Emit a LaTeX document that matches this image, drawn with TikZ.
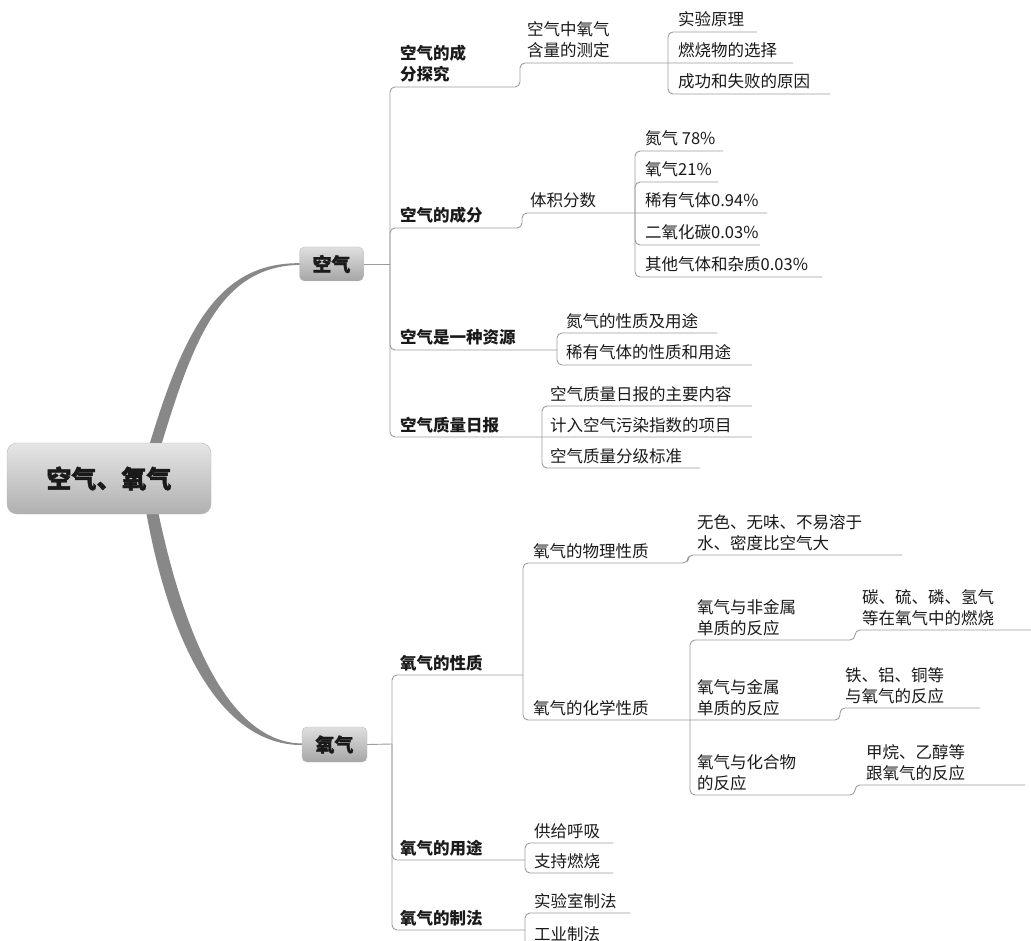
\documentclass[tikz,border=0pt]{standalone}
\usepackage{fontspec}
\setmainfont{Noto Sans CJK SC}
\definecolor{linec}{HTML}{9C9C9C}
\definecolor{textc}{HTML}{1A1A1A}
\definecolor{curvec}{HTML}{888888}
\newcommand\tb[1]{\begin{tabular}[b]{@{}l@{}}#1\end{tabular}}
\begin{document}
\begin{tikzpicture}[x=1pt,y=-1pt,
  lbl/.style={anchor=base west, inner sep=0pt, text=textc, font=\fontsize{16.5}{21}\selectfont},
  lbb/.style={lbl, font=\fontsize{16.5}{21}\selectfont\bfseries},
  br/.style={draw=linec, line width=0.9pt, rounded corners=5pt},
  rootbox/.style={rounded corners=10pt, draw=gray!55, top color=gray!20, bottom color=gray!62,
     minimum width=204pt, minimum height=71pt, inner sep=0pt, text=textc,
     font=\fontsize{25}{28}\selectfont\bfseries\addfontfeature{FakeBold=1.5}},
  topicbox/.style={rounded corners=5pt, draw=gray!50, top color=gray!25, bottom color=gray!70,
     minimum width=64pt, minimum height=34pt, inner sep=0pt, text=textc,
     font=\fontsize{19}{22}\selectfont\bfseries\addfontfeature{FakeBold=1}}
]
\useasboundingbox (0,0) rectangle (1031,941);
\fill[white] (0,0) rectangle (1031,941);
\clip (0,0) rectangle (1031,941);

% main tapered curves (behind the root box)
\fill[curvec] (149,446) .. controls (184,330) and (218,262.3) .. (300,263.2)
  -- (300,264.8) .. controls (223,266.5) and (195,333) .. (161,446) -- cycle;
\fill[curvec] (146,511) .. controls (170,646) and (222,745.5) .. (302,745)
  -- (302,743.5) .. controls (229,742.5) and (184,636) .. (158,511) -- cycle;

\node[rootbox] (root) at (109,478.5) {空气、氧气};
\node[topicbox] (kq) at (331.5,264) {空气};
\node[topicbox, minimum width=65pt, minimum height=35pt] (yq) at (334.5,744.5) {氧气};

% ---------- 空气 branch ----------
\coordinate (j1) at (390,264);
\draw[br] (kq.east) -- (j1);
% 空气的成分探究
\draw[br] (j1) -- (390,87) -- (520,87) -- (520,63) -- (668,63) -- (793,63);
\draw[br] (668,63) -- (668,32) -- (757,32);
\draw[br] (668,63) -- (668,94) -- (830,94);
% 空气的成分
\draw[br] (j1) -- (390,228) -- (522,228) -- (522,213) -- (635,213) -- (767,213);
\draw[br] (635,213) -- (635,151) -- (723,151);
\draw[br] (635,213) -- (635,182) -- (718,182);
\draw[br] (635,213) -- (635,245) -- (760,245);
\draw[br] (635,213) -- (635,277) -- (822,277);
% 空气是一种资源
\draw[br] (j1) -- (390,350) -- (557,350);
\draw[br] (557,350) -- (557,333) -- (717,333);
\draw[br] (557,350) -- (557,365) -- (752,365);
% 空气质量日报
\draw[br] (j1) -- (390,437) -- (542,437) -- (752,437);
\draw[br] (542,437) -- (542,406) -- (752,406);
\draw[br] (542,437) -- (542,468) -- (700,468);

% ---------- 氧气 branch ----------
\coordinate (j2) at (392,744);
\draw[br] (yq.east) -- (j2);
% 氧气的性质
\draw[br] (j2) -- (392,675) -- (523,675);
\draw[br] (523,675) -- (523,563) -- (688,563) -- (688,555) -- (902,555);
\draw[br] (523,675) -- (523,720) -- (690,720) -- (840,720) -- (840,708) -- (980,708);
\draw[br] (690,720) -- (690,640) -- (855,640) -- (855,630) -- (1031,630);
\draw[br] (690,720) -- (690,795) -- (855,795) -- (855,785) -- (1025,785);
% 氧气的用途
\draw[br] (j2) -- (392,860) -- (525,860);
\draw[br] (525,860) -- (525,843) -- (613,843);
\draw[br] (525,860) -- (525,873) -- (613,873);
% 氧气的制法
\draw[br] (j2) -- (392,930) -- (525,930);
\draw[br] (525,930) -- (525,913) -- (630,913);
\draw[br] (525,930) -- (525,946) -- (612,946);

% ---------- labels ----------
\node[lbb] (a1) at (400,81) {\tb{空气的成\\分探究}};
\node[lbb] (a2) at (400,222) {\tb{空气的成分}};
\node[lbb] (a3) at (400,344) {\tb{空气是一种资源}};
\node[lbb] (a4) at (400,431) {\tb{空气质量日报}};
\node[lbb] (b1) at (400,669) {\tb{氧气的性质}};
\node[lbb] (b2) at (400,854) {\tb{氧气的用途}};
\node[lbb] (b3) at (400,924) {\tb{氧气的制法}};

\node[lbl] (a11) at (527,57) {\tb{空气中氧气\\含量的测定}};
\node[lbl] (a111) at (678,26) {\tb{实验原理}};
\node[lbl] (a112) at (678,57) {\tb{燃烧物的选择}};
\node[lbl] (a113) at (678,88) {\tb{成功和失败的原因}};

\node[lbl] (a21) at (530,207) {\tb{体积分数}};
\node[lbl] (a211) at (645,145) {\tb{氮气 78\%}};
\node[lbl] (a212) at (645,176) {\tb{氧气21\%}};
\node[lbl] (a213) at (645,207) {\tb{稀有气体0.94\%}};
\node[lbl] (a214) at (645,239) {\tb{二氧化碳0.03\%}};
\node[lbl] (a215) at (645,271) {\tb{其他气体和杂质0.03\%}};

\node[lbl] (a31) at (566,327) {\tb{氮气的性质及用途}};
\node[lbl] (a32) at (566,359) {\tb{稀有气体的性质和用途}};

\node[lbl] (a41) at (550,400) {\tb{空气质量日报的主要内容}};
\node[lbl] (a42) at (550,431) {\tb{计入空气污染指数的项目}};
\node[lbl] (a43) at (550,462) {\tb{空气质量分级标准}};

\node[lbl] (b11) at (533,557) {\tb{氧气的物理性质}};
\node[lbl] (b111) at (697,549) {\tb{无色、无味、不易溶于\\水、密度比空气大}};
\node[lbl] (b12) at (533,714) {\tb{氧气的化学性质}};
\node[lbl] (b121) at (697,634) {\tb{氧气与非金属\\单质的反应}};
\node[lbl] (b1211) at (862,624) {\tb{碳、硫、磷、氢气\\等在氧气中的燃烧}};
\node[lbl] (b122) at (697,714) {\tb{氧气与金属\\单质的反应}};
\node[lbl] (b1221) at (845,702) {\tb{铁、铝、铜等\\与氧气的反应}};
\node[lbl] (b123) at (697,789) {\tb{氧气与化合物\\的反应}};
\node[lbl] (b1231) at (866,779) {\tb{甲烷、乙醇等\\跟氧气的反应}};

\node[lbl] (b21) at (534,837) {\tb{供给呼吸}};
\node[lbl] (b22) at (534,867) {\tb{支持燃烧}};
\node[lbl] (b31) at (534,907) {\tb{实验室制法}};
\node[lbl] (b32) at (534,940) {\tb{工业制法}};
\end{tikzpicture}
\end{document}
